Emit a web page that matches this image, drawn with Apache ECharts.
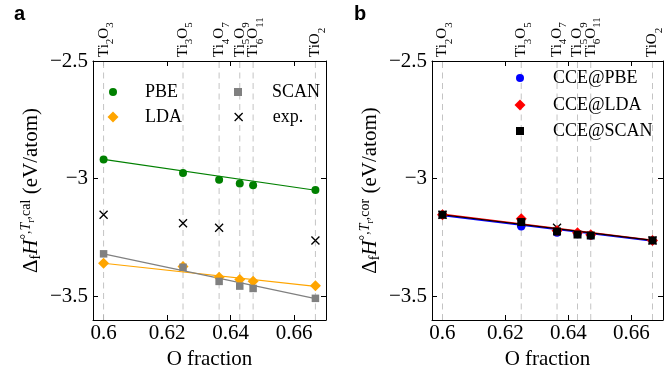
<!DOCTYPE html>
<html>
<head>
<meta charset="utf-8">
<script src="https://cdn.jsdelivr.net/npm/echarts@6/dist/echarts.min.js"></script>
<style>
html,body{margin:0;padding:0;background:#fff;}
#chart{width:665px;height:370px;}
</style>
</head>
<body>
<div id="chart"></div>
<script>
// ---- data ----
const xFrac = [0.6, 0.625, 0.63636, 0.64286, 0.64706, 0.66667];
const compounds = [['Ti','2','O','3'], ['Ti','3','O','5'], ['Ti','4','O','7'], ['Ti','5','O','9'], ['Ti','6','O','11'], ['Ti','','O','2']];
const xTicks = [0.6, 0.62, 0.64, 0.66];
const yTicks = [-3.5, -3, -2.5];

const pbe  = [-2.918, -2.976, -3.004, -3.020, -3.028, -3.048];
const lda  = [-3.359, -3.373, -3.418, -3.428, -3.435, -3.455];
const scan = [-3.319, -3.376, -3.436, -3.456, -3.466, -3.508];
const expV = [-3.153, -3.189, -3.208, null, null, -3.262];

const ccePbe  = [-3.153, -3.203, -3.229, -3.236, -3.242, -3.262];
const cceLda  = [-3.153, -3.170, -3.220, -3.229, -3.238, -3.262];
const cceScan = [-3.153, -3.184, -3.224, -3.237, -3.241, -3.262];

const fitX = [0.6, 0.66667];
const pbeFit  = [-2.918, -3.049];
const ldaFit  = [-3.359, -3.457];
const scanFit = [-3.319, -3.509];
const ccePbeFit  = [-3.156, -3.264];
const cceLdaFit  = [-3.151, -3.261];
const cceScanFit = [-3.153, -3.262];

// ---- styling ----
const SERIF = 'Liberation Serif';
const XMIN = 0.596667, XMAX = 0.67, YMIN = -3.6, YMAX = -2.5;
const X_PATH = 'path://M0,0L10,10M10,0L0,10';

function pairs(xs, ys) { return xs.map((x, i) => [x, ys[i]]).filter(p => p[1] !== null); }

function compoundLabel(v) {
  let idx = 0, best = 1;
  xFrac.forEach((x, i) => { if (Math.abs(x - v) < best) { best = Math.abs(x - v); idx = i; } });
  const c = compounds[idx];
  let s = '{m|' + c[0] + '}';
  if (c[1]) s += '{s|' + c[1] + '}';
  s += '{m|' + c[2] + '}';
  if (c[3]) s += '{s|' + c[3] + '}';
  return s;
}

const topRich = {
  m: {fontSize: 15, fontFamily: SERIF, fill: '#000', color: '#000', lineHeight: 24},
  s: {fontSize: 11, fontFamily: SERIF, fill: '#000', color: '#000', lineHeight: 11, verticalAlign: 'bottom'}
};

const yRich = {
  m:   {fontSize: 21, fontFamily: SERIF, color: '#000', lineHeight: 24},
  it:  {fontSize: 21, fontFamily: SERIF, color: '#000', fontStyle: 'italic', lineHeight: 24},
  sub: {fontSize: 14, fontFamily: SERIF, color: '#000', lineHeight: 14, verticalAlign: 'bottom'},
  sup: {fontSize: 14, fontFamily: SERIF, color: '#000', lineHeight: 14, verticalAlign: 'top'},
  supit: {fontSize: 14, fontFamily: SERIF, color: '#000', fontStyle: 'italic', lineHeight: 14, verticalAlign: 'top'},
  ss:  {fontSize: 10, fontFamily: SERIF, color: '#000', lineHeight: 10, verticalAlign: 'middle'}
};

function yName(tag) {
  return '{m|Δ}{sub|f}{it|H}{sup|°,}{supit|T}{ss|r}{sup|,' + tag + '}{m| (eV/atom)}';
}

function xAxisBottom(g) {
  return {
    type: 'value', gridIndex: g, position: 'bottom', min: XMIN, max: XMAX,
    axisLine: {show: true, onZero: false, lineStyle: {color: '#000', width: 1}},
    axisTick: {show: true, inside: true, length: 5, customValues: xTicks, lineStyle: {color: '#000'}},
    splitLine: {show: false},
    axisLabel: {customValues: xTicks, formatter: v => String(+(+v).toFixed(2)), fontSize: 21, fontFamily: SERIF, color: '#000', margin: 3},
    name: 'O fraction', nameLocation: 'middle', nameGap: 26,
    nameTextStyle: {fontSize: 21, fontFamily: SERIF, color: '#000'}
  };
}
function xAxisTop(g) {
  return {
    type: 'value', gridIndex: g, position: 'top', min: XMIN, max: XMAX,
    axisLine: {show: true, onZero: false, lineStyle: {color: '#000', width: 1}},
    axisTick: {show: true, inside: true, length: 5, customValues: xTicks, lineStyle: {color: '#000'}},
    splitLine: {show: false},
    axisLabel: {show: false}
  };
}
function yAxisLeft(g, tag) {
  return {
    type: 'value', gridIndex: g, position: 'left', min: YMIN, max: YMAX,
    axisLine: {show: true, onZero: false, lineStyle: {color: '#000', width: 1}},
    axisTick: {show: true, inside: true, length: 5, customValues: yTicks, lineStyle: {color: '#000'}},
    splitLine: {show: false},
    axisLabel: {customValues: yTicks, formatter: v => (v < 0 ? '\u2212' : '') + Math.abs(v), fontSize: 21, fontFamily: SERIF, color: '#000', margin: 5},
    name: yName(tag), nameLocation: 'middle', nameGap: 50, nameRotate: 90,
    nameTextStyle: {fontSize: 21, fontFamily: SERIF, color: '#000', rich: yRich}
  };
}
function yAxisRight(g) {
  return {
    type: 'value', gridIndex: g, position: 'right', min: YMIN, max: YMAX,
    axisLine: {show: true, onZero: false, lineStyle: {color: '#000', width: 1}},
    axisTick: {show: true, inside: true, length: 5, customValues: yTicks, lineStyle: {color: '#000'}},
    splitLine: {show: false},
    axisLabel: {show: false}
  };
}

function scatter(name, xi, yi, ys, symbol, size, color, z, stroke) {
  const s = {
    type: 'scatter', name: name, xAxisIndex: xi, yAxisIndex: yi, z: z,
    data: pairs(xFrac, ys), symbol: symbol, symbolSize: size,
    itemStyle: {color: color, opacity: 1}, silent: true
  };
  if (stroke) s.itemStyle = {color: color, borderColor: color, borderWidth: 1.3, opacity: 1};
  return s;
}
function fitLine(xi, yi, ys, color, width, z) {
  return {
    type: 'line', xAxisIndex: xi, yAxisIndex: yi, z: z, data: pairs(fitX, ys),
    symbol: 'none', lineStyle: {color: color, width: width}, silent: true
  };
}
function guides(xi, yi) {
  return xFrac.map(x => ({
    type: 'line', xAxisIndex: xi, yAxisIndex: yi, z: 1, silent: true,
    data: [[x, YMIN], [x, YMAX]], symbol: 'none',
    lineStyle: {color: '#c4c4c4', type: [6, 4.5], width: 1}
  }));
}

function legendItem(name, cx, cy, size, textX, extra) {
  const left = cx - size / 2;
  const d = {name: name};
  if (extra) Object.assign(d, extra);
  return {
    data: [d], orient: 'vertical', left: left, top: cy - 10,
    itemWidth: size, itemHeight: size, selectedMode: false, padding: 0,
    textStyle: {fontSize: 18, fontFamily: SERIF, color: '#000', lineHeight: 20,
                padding: [0, 0, 0, textX - (left + size + 5)]}
  };
}

const letters = [
  {type: 'text', left: 14, top: 4, style: {text: 'a', font: 'bold 20px "Liberation Sans"', fill: '#000'}},
  {type: 'text', left: 354, top: 4, style: {text: 'b', font: 'bold 20px "Liberation Sans"', fill: '#000'}}
];

const option = {
  animation: false,
  backgroundColor: '#fff',
  grid: [
    {left: 93, top: 61, width: 233, height: 259, outerBoundsMode: 'none', containLabel: false},
    {left: 432, top: 61, width: 231, height: 259, outerBoundsMode: 'none', containLabel: false}
  ],
  xAxis: [xAxisBottom(0), xAxisTop(0), xAxisBottom(1), xAxisTop(1)],
  yAxis: [yAxisLeft(0, 'cal'), yAxisRight(0), yAxisLeft(1, 'cor'), yAxisRight(1)],
  legend: [
    legendItem('PBE', 113, 92, 8, 145),
    legendItem('LDA', 113, 117, 11, 145),
    legendItem('SCAN', 238, 92, 8, 272),
    legendItem('exp.', 238, 117, 8, 272, {itemStyle: {color: '#000', borderColor: '#000', borderWidth: 1.3}}),
    legendItem('CCE@PBE', 520, 78, 8, 553),
    legendItem('CCE@LDA', 520, 105, 11, 553),
    legendItem('CCE@SCAN', 520, 131, 8, 553)
  ],
  graphic: letters,
  series: [].concat(
    guides(0, 0),
    guides(2, 2),
    [
      // panel a
      fitLine(0, 0, pbeFit, '#008000', 1.2, 2),
      fitLine(0, 0, ldaFit, '#FFA500', 1.2, 2),
      fitLine(0, 0, scanFit, '#808080', 1.2, 2),
      scatter('PBE', 0, 0, pbe, 'circle', 8, '#008000', 3),
      scatter('LDA', 0, 0, lda, 'diamond', 11, '#FFA500', 3),
      scatter('SCAN', 0, 0, scan, 'rect', 7.5, '#808080', 4),
      scatter('exp.', 0, 0, expV, X_PATH, 8, '#000', 4, true),
      // panel b
      scatter('exp. b', 2, 2, expV, X_PATH, 8, '#000', 2, true),
      fitLine(2, 2, ccePbeFit, '#0000FF', 1.6, 3),
      fitLine(2, 2, cceLdaFit, '#FF0000', 1.4, 3),
      fitLine(2, 2, cceScanFit, '#000000', 1.2, 3),
      scatter('CCE@PBE', 2, 2, ccePbe, 'circle', 8, '#0000FF', 4),
      scatter('CCE@LDA', 2, 2, cceLda, 'diamond', 11, '#FF0000', 4),
      scatter('CCE@SCAN', 2, 2, cceScan, 'rect', 8, '#000000', 5)
    ]
  )
};

const chart = echarts.init(document.getElementById('chart'), null, {renderer: 'canvas'});
chart.setOption(option);

// compound labels above the top axis, placed through the chart's own scales
const topLabels = [];
[[0, 0], [2, 2]].forEach(([xi, yi]) => {
  xFrac.forEach(x => {
    const p = chart.convertToPixel({xAxisIndex: xi, yAxisIndex: yi}, [x, YMAX]);
    topLabels.push({
      type: 'text', x: p[0], y: p[1] - 4, rotation: Math.PI / 2, silent: true,
      style: {text: compoundLabel(x), rich: topRich, align: 'left', verticalAlign: 'middle',
              fontFamily: SERIF, fontSize: 15, fill: '#000'}
    });
  });
});
chart.setOption({graphic: letters.concat(topLabels)});
</script>
</body>
</html>
